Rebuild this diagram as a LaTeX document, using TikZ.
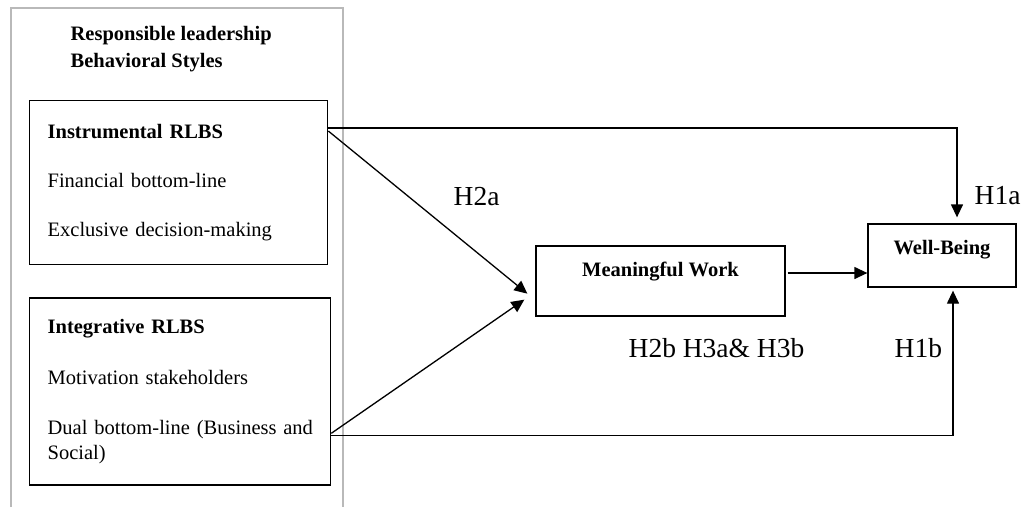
\documentclass[tikz,border=0pt]{standalone}
\usepackage{fontspec}
\setmainfont{Liberation Serif}
\usetikzlibrary{positioning, arrows.meta}

\begin{document}
\begin{tikzpicture}[x=1pt, y=-1pt, line width=1.3pt, >={Triangle[length=13pt, width=12pt]},
        box/.style={draw, align=left, inner sep=0pt, inner xsep=18pt, anchor=north west,
                    font=\fontsize{20.5}{24.6}\selectfont},
        var/.style={draw, inner sep=0pt, anchor=base, font=\fontsize{20.5}{24.6}\selectfont\bfseries},
        hyp/.style={inner sep=0pt, anchor=base west, font=\fontsize{27.5}{33}\selectfont}]
        \useasboundingbox (0,0) rectangle (1021,507);

        % frame of the behavioural styles
        \draw[gray!55, line width=1.4pt] (11,507) -- (11,8) -- (343,8) -- (343,507);
        \node[inner sep=0pt, anchor=north west, align=left, font=\fontsize{20.5}{24.6}\selectfont\bfseries]
                                                             (title)  at (70,26) {Responsible leadership\\[2.4pt]Behavioral Styles};

        \node[box, text width=262pt, minimum height=164pt]   (instr)  at (29,100)
            {\textbf{Instrumental RLBS}\\[24pt]Financial bottom-line\\[24pt]Exclusive decision-making};
        \node[box, text width=265pt, minimum height=187pt, below=32pt of instr.south west, anchor=north west]
                                                             (integ)
            {\textbf{Integrative RLBS}\\[26pt]Motivation stakeholders\\[26pt]\mbox{Dual bottom-line (Business and}\\Social)};

        \node[var, minimum width=249pt, text height=30pt, text depth=40pt] (mw) at (660.5,276) {Meaningful Work};
        \node[var, minimum width=148pt, text height=30pt, text depth=33pt] (wb) at (942,254)   {Well-Being};

        \node[hyp] (h2a) at (453,205) {H2a};
        \node[hyp] (h1a) at (974,204) {H1a};
        \node[hyp] (h2b) at (628,357) {H2b H3a\& H3b};
        \node[hyp] (h1b) at (894,357) {H1b};

        \draw[->, shorten >=6pt] ([yshift=-28pt]instr.north east) -| ([xshift=15pt]wb.north);
        \draw[->] ([yshift=-31pt]instr.north east)  -- ([shift={(-8pt,23pt)}]mw.south west);
        \draw[->] ([yshift=-136pt]integ.north east) -- ([shift={(-11pt,17pt)}]mw.south west);
        \draw[->, shorten >=3pt] ([yshift=-138pt]integ.north east) -| ([xshift=11pt]wb.south);
        \draw[->] ([xshift=2pt,yshift=8pt]mw.east)  -- ([yshift=8pt]mw.east -| wb.west);
    \end{tikzpicture}
\end{document}
